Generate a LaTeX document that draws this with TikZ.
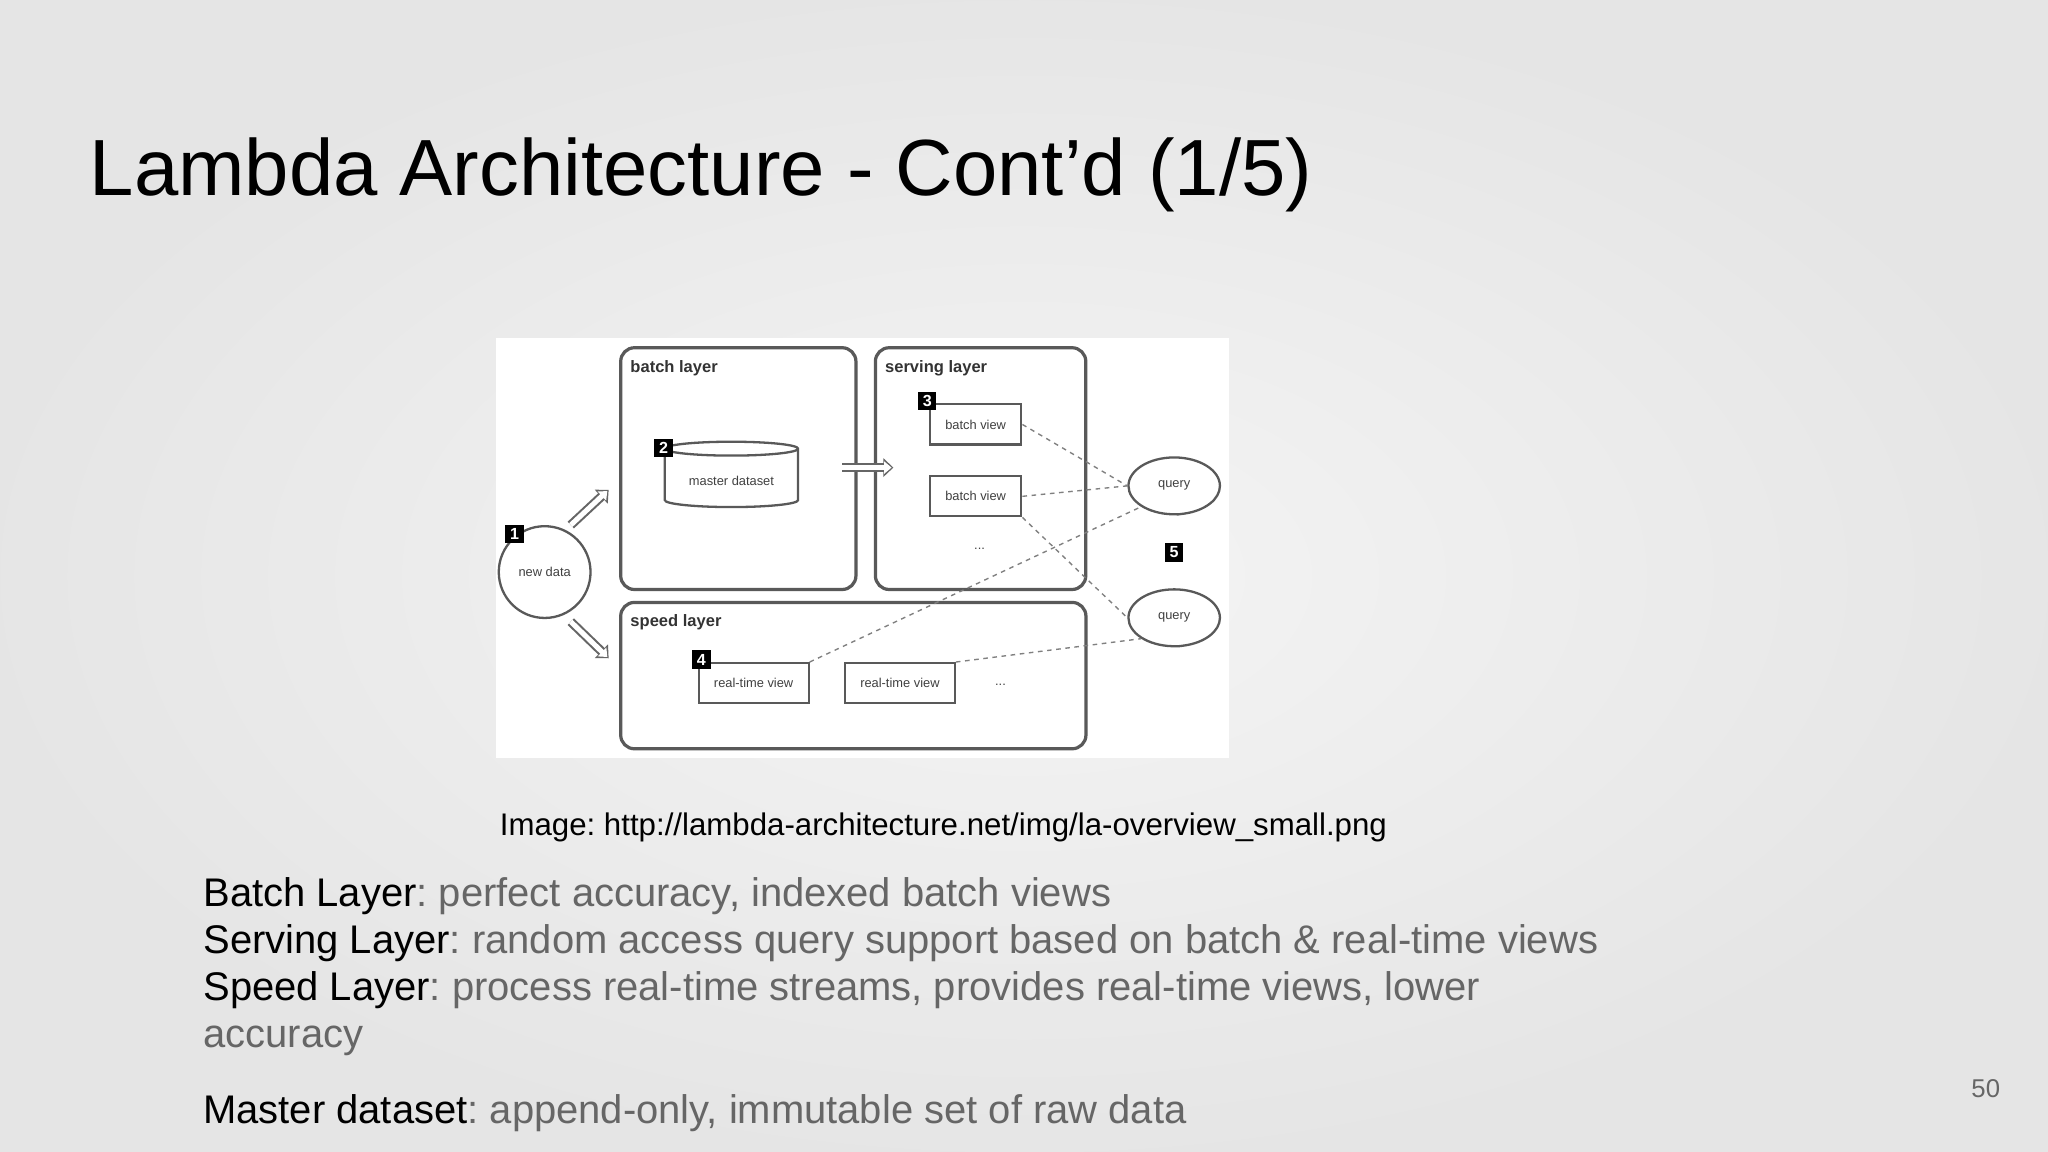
\documentclass[tikz,border=0pt]{standalone}
\usepackage{fontspec}
\setmainfont{Liberation Sans}
\frenchspacing
\usetikzlibrary{shapes.geometric,shapes.callouts,arrows.meta}
\definecolor{txtgray}{HTML}{666666}
\tikzset{
  layer/.style={draw=black!65,line width=0.7pt,rounded corners=3pt,fill=white},
  badge/.style={fill=black,text=white,font=\fontsize{3.5}{4}\selectfont\bfseries,minimum size=0.14cm,inner sep=0pt},
  doc/.style={draw=black!65,line width=0.45pt,fill=white},
  small/.style={font=\fontsize{2.8}{3}\selectfont,text=black!75},
  lname/.style={font=\fontsize{3.6}{4}\selectfont\bfseries,text=black!80,anchor=north west,inner sep=0pt},
  dl/.style={dash pattern=on 1pt off 1pt,draw=black!50,line width=0.3pt},
  hollow/.style={-{Triangle[open,length=2.2pt,width=4pt]},line width=2pt,draw=black!60,
    postaction={draw=white,line width=1.1pt,-{Triangle[length=1.6pt,width=2.6pt,fill=white]},shorten >=0.4pt}},
  body/.style={font=\fontsize{8.7}{10}\selectfont,anchor=base west,inner sep=0pt}
}
\begin{document}
\begin{tikzpicture}[x=0.01cm,y=-0.01cm]
\useasboundingbox (0,0) rectangle (1568,882);
\shade[inner color=gray!8,outer color=gray!20] (0,0) rectangle (1568,882);
\node[anchor=base west,inner sep=0pt,font=\fontsize{17.35}{20}\selectfont] (title) at (68,150) {Lambda Architecture - Cont’d (1/5)};
% image
\fill[white] (380,259) rectangle (941,580);
\node[layer,minimum width=1.8cm,minimum height=1.85cm,anchor=north west] (batch) at (474,265) {};
\node[layer,minimum width=1.61cm,minimum height=1.85cm,anchor=north west] (serving) at (669,265) {};
\node[layer,minimum width=3.56cm,minimum height=1.12cm,anchor=north west] (speed) at (474,460) {};
\node[lname] (bl) at (482,275) {batch layer};
\node[lname] (sl) at (677,275) {serving layer};
\node[lname] (spl) at (482,470) {speed layer};
% new data
\node[circle,draw=black!65,line width=0.5pt,fill=white,minimum size=0.62cm,small] (nd) at (417,438) {new data};
\node[badge] (b1) at (394,409) {1};
% cylinder
\node[cylinder,shape border rotate=90,aspect=0.12,draw=black!65,line width=0.5pt,fill=white,minimum width=1.02cm,minimum height=0.5cm,small] (md) at (560,368) {master dataset};
\node[badge] (b2) at (508,343) {2};
% batch views
\node[doc,minimum width=0.7cm,minimum height=0.26cm,small] (bv1) at (747,325) {batch view};
\node[doc,minimum width=0.7cm,minimum height=0.26cm,small] (bv2) at (747,380) {batch view};
\node[badge] (b3) at (710,307) {3};
\node[small] (dots1) at (750,420) {...};
% queries
\node[ellipse callout,callout relative pointer={(0.02,0.14)},draw=black!65,line width=0.5pt,fill=white,minimum width=0.7cm,minimum height=0.3cm,small] (q1) at (899,372) {query};
\node[ellipse callout,callout relative pointer={(0.02,0.14)},draw=black!65,line width=0.5pt,fill=white,minimum width=0.7cm,minimum height=0.3cm,small] (q2) at (899,473) {query};
\node[badge] (b5) at (899,423) {5};
% speed views
\node[doc,minimum width=0.75cm,minimum height=0.26cm,small] (rv1) at (577,523) {real-time view};
\node[doc,minimum width=0.75cm,minimum height=0.26cm,small] (rv2) at (689,523) {real-time view};
\node[badge] (b4) at (537,505) {4};
\node[small] (dots2) at (766,524) {...};
% arrows
\coordinate (a1s) at (437,402); \coordinate (a1e) at (466,375);
\coordinate (a2s) at (437,476); \coordinate (a2e) at (466,504);
\coordinate (a3s) at (645,358); \coordinate (a3e) at (684,358);
\draw[hollow] (a1s) -- (a1e);
\draw[hollow] (a2s) -- (a2e);
\draw[hollow] (a3s) -- (a3e);
% dashed
\draw[dl] (bv1.east) -- (q1.west);
\draw[dl] (bv2.east) -- (q1.west);
\draw[dl] (bv2.south east) -- (q2.west);
\draw[dl] (rv1.north east) -- (q1.south west);
\draw[dl] (rv2.north east) -- (q2.south west);
% texts
\node[anchor=base west,inner sep=0pt,font=\fontsize{6.8}{8}\selectfont] (cap) at (382,640) {Image: http://lambda-architecture.net/img/la-overview\_small.png};
\node[body] (t1) at (155,694) {Batch Layer\textcolor{txtgray}{: perfect accuracy, indexed batch views}};
\node[body] (t2) at (155,730) {Serving Layer\textcolor{txtgray}{: random access query support based on batch \& real-time views}};
\node[body] (t3) at (155,766) {Speed Layer\textcolor{txtgray}{: process real-time streams, provides real-time views, lower}};
\node[body,text=txtgray] (t4) at (155,802) {accuracy};
\node[body] (t5) at (155,860) {Master dataset\textcolor{txtgray}{: append-only, immutable set of raw data}};
\node[anchor=base east,inner sep=0pt,font=\fontsize{5.6}{7}\selectfont,text=txtgray] (pg) at (1532,840) {50};
\end{tikzpicture}
\end{document}
